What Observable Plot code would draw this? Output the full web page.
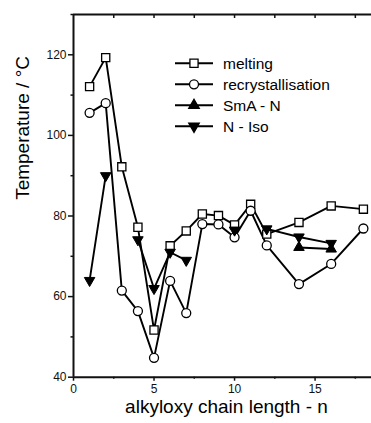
<!DOCTYPE html>
<html>
<head>
<meta charset="utf-8">
<script src="https://cdn.jsdelivr.net/npm/d3@7"></script>
<script src="https://cdn.jsdelivr.net/npm/@observablehq/plot@0.6"></script>
<style>
  html, body { margin: 0; padding: 0; background: white; }
  #wrap { position: relative; width: 371px; height: 423px; overflow: hidden; font-family: "Liberation Sans", Arial, sans-serif; }
  #legend { position: absolute; left: 0; top: 0; }
</style>
</head>
<body>
<div id="wrap"></div>
<script>
// ---- data ----
const chainLength = [1, 2, 3, 4, 5, 6, 7, 8, 9, 10, 11, 12, 14, 16, 18];
const melting =          [112.1, 119.3, 92.2, 77.2, 51.7, 72.6, 76.3, 80.5, 80.1, 77.8, 82.9, 75.5, 78.4, 82.5, 81.7];
const recrystallisation = [105.6, 108.0, 61.5, 56.4, 44.8, 63.9, 55.9, 78.0, 77.9, 74.7, 81.3, 72.7, 63.1, 68.1, 76.9];
const smaN =  [null, null, null, null, null, null, null, null, null, null, null, null, 72.2, 71.8, null];
const nIso =  [64.0, 90.0, null, 74.1, 62.0, 71.0, 69.0, null, null, 76.5, null, 76.8, 74.8, 73.2, null];
const seriesNames = ["melting", "recrystallisation", "SmA - N", "N - Iso"];
const xTicks = [0, 5, 10, 15];
const xMinorTicks = [2.5, 7.5, 12.5, 17.5];
const xTopTicks = [2.5, 5, 7.5, 10, 12.5, 15, 17.5];
const yTicks = [40, 60, 80, 100, 120];
const yMinorTicks = [50, 70, 90, 110, 130];
const xDomain = [0, 19];
const yDomain = [40, 130];

const rows = (vals) => chainLength.map((n, i) => ({n, t: vals[i]}));
const melt = rows(melting), recr = rows(recrystallisation), sma = rows(smaN), niso = rows(nIso);
const def = d => d.t != null;

const font = "Liberation Sans, Arial, sans-serif";
const lw = 1.9;

const chart = Plot.plot({
  width: 380,
  height: 423,
  marginLeft: 73,
  marginRight: 1,
  marginTop: 14,
  marginBottom: 46.3,
  style: {fontFamily: font, background: "white", maxWidth: "none", color: "#111"},
  x: {domain: xDomain},
  y: {domain: yDomain},
  marks: [
    // axis frame
    Plot.ruleX([xDomain[0]], {strokeWidth: 2}),
    Plot.ruleY([yDomain[0]], {strokeWidth: 2}),
    Plot.ruleY([yDomain[1]], {strokeWidth: 2}),
    Plot.axisX({ticks: xTicks, tickSize: 4, tickPadding: 3, fontSize: 12, label: null, strokeWidth: 1.5}),
    Plot.axisX({ticks: xMinorTicks, tickSize: 2, tickFormat: () => "", label: null, strokeWidth: 1.5}),
    Plot.axisX({anchor: "top", ticks: xTopTicks, tickSize: 3, dy: 3, tickFormat: () => "", label: null, strokeWidth: 1.5}),
    Plot.axisY({ticks: yTicks, tickSize: 5, tickPadding: 2, fontSize: 12, label: null, strokeWidth: 1.5}),
    Plot.axisY({ticks: yMinorTicks, tickSize: 2.5, tickFormat: () => "", label: null, strokeWidth: 1.5}),
    // axis titles
    Plot.text(["alkyloxy chain length - n"], {frameAnchor: "bottom", dy: 36, fontSize: 19, fill: "black"}),
    Plot.text(["Temperature / °C"], {frameAnchor: "left", rotate: -90, dx: -51, dy: 4, fontSize: 19, fill: "black"}),
    // lines
    Plot.line(melt, {x: "n", y: "t", stroke: "black", strokeWidth: lw}),
    Plot.line(recr, {x: "n", y: "t", stroke: "black", strokeWidth: lw}),
    Plot.line(niso, {x: "n", y: "t", stroke: "black", strokeWidth: lw}),
    Plot.line(sma, {x: "n", y: "t", stroke: "black", strokeWidth: lw}),
    // markers
    Plot.dot(melt, {x: "n", y: "t", symbol: "square", r: 4.6, fill: "white", stroke: "black", strokeWidth: 1.3}),
    Plot.dot(recr, {x: "n", y: "t", symbol: "circle", r: 4.5, fill: "white", stroke: "black", strokeWidth: 1.3}),
    Plot.dot(sma.filter(def), {x: "n", y: "t", symbol: "triangle", r: 3.9, fill: "black", stroke: "black", strokeWidth: 1}),
    Plot.dot(niso.filter(def), {x: "n", y: "t", symbol: "triangle", rotate: 180, r: 3.9, fill: "black", stroke: "black", strokeWidth: 1})
  ]
});
document.getElementById("wrap").appendChild(chart);

// ---- legend overlay ----
const symbols = [d3.symbolSquare, d3.symbolCircle, d3.symbolTriangle, d3.symbolTriangle];
const symSize = [Math.PI * 4.6 * 4.6, Math.PI * 4.5 * 4.5, Math.PI * 3.9 * 3.9, Math.PI * 3.9 * 3.9];
const symFill = ["white", "white", "black", "black"];
const symRot = [0, 0, 0, 180];
const leg = d3.select("#wrap").append("svg").attr("id", "legend").attr("width", 371).attr("height", 423);
const g = leg.selectAll("g").data(seriesNames).join("g")
  .attr("transform", (d, i) => `translate(0, ${63.3 + i * 21})`);
g.append("line").attr("x1", 175).attr("x2", 213).attr("stroke", "black").attr("stroke-width", lw);
g.append("path")
  .attr("d", (d, i) => d3.symbol(symbols[i], symSize[i])())
  .attr("transform", (d, i) => `translate(194,0) rotate(${symRot[i]})`)
  .attr("fill", (d, i) => symFill[i]).attr("stroke", "black").attr("stroke-width", 1.3);
g.append("text").attr("x", 223).attr("dy", "0.35em")
  .attr("font-family", font).attr("font-size", 15.5).attr("fill", "black")
  .text(d => d);
</script>
</body>
</html>
